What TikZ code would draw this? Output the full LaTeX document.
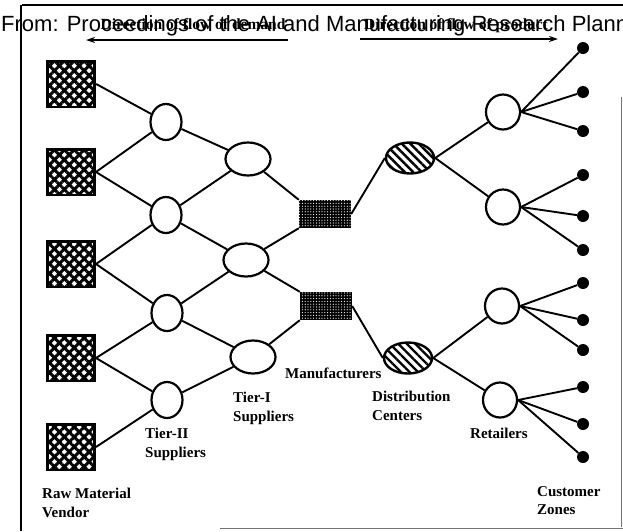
\documentclass[tikz,border=0pt]{standalone}
\usepackage{fontspec}
\setmainfont{Liberation Serif}
\newfontfamily\hdrfont{Liberation Sans}
\usetikzlibrary{shapes.geometric,patterns.meta,arrows.meta}
\begin{document}
\begin{tikzpicture}[x=1pt,y=-1pt,
  rawsq/.style={rectangle, draw, line width=2.6pt, minimum width=47.4pt, minimum height=45.6pt, inner sep=0pt,
    pattern={Lines[angle=45,distance=7pt,line width=3pt]},
    postaction={pattern={Lines[angle=-45,distance=7pt,line width=3pt]}}},
  mfgbox/.style={rectangle, inner sep=0pt, minimum width=52pt, minimum height=28pt, fill=black,
    postaction={pattern={Dots[distance=2.8pt,radius=0.6pt]}, pattern color=white}},
  dcnode/.style={ellipse, draw, line width=2.4pt, inner sep=0pt, minimum width=48pt, minimum height=31pt,
    pattern={Lines[angle=-45,distance=6pt,line width=2.4pt]}},
  tiertwo/.style={ellipse, draw, line width=2.2pt, inner sep=0pt, minimum width=31pt, minimum height=36pt, fill=white},
  tierone/.style={ellipse, draw, line width=2.2pt, inner sep=0pt, minimum width=45pt, minimum height=33pt, fill=white},
  retail/.style={ellipse, draw, line width=2.2pt, inner sep=0pt, minimum width=34pt, minimum height=35pt, fill=white},
  cust/.style={circle, fill=black, inner sep=0pt, minimum size=12pt},
  conn/.style={line width=1.9pt},
  lab/.style={font=\bfseries\fontsize{15}{18.5}\selectfont, align=left, inner sep=0pt, anchor=north west},
  dirlab/.style={font=\bfseries\fontsize{15.5}{18}\selectfont, inner sep=0pt, anchor=base},
  dirarrow/.style={line width=2.4pt, -{Stealth[length=9pt,width=6pt]}},
  frameline/.style={line width=2.2pt},
  faintline/.style={line width=1pt, black!55}
]
\clip (0,0) rectangle (623,531);
\fill[white] (0,0) rectangle (623,531);

% frame
\draw[frameline] (22,5) -- (623,5);
\draw[line width=1.6pt] (21,5) -- (21,531);
\draw[faintline] (621,97) -- (621,527);
\draw[faintline] (220,528) -- (623,528);

% header
\node[anchor=base west, inner sep=0pt, font=\hdrfont\fontsize{22}{26}\selectfont] (hdr) at (1,31)
  {From: Proceedings of the AI and Manufacturing Research Planning};
\node[dirlab] (demand) at (193,29) {Direction of flow of demand};
\node[dirlab] (product) at (456,29) {Direction of flow of product};
\coordinate (dA) at (288,40);
\coordinate (dB) at (86,40);
\coordinate (pA) at (360,39);
\coordinate (pB) at (558,39);
\draw[dirarrow] (dA) -- (dB);
\draw[dirarrow] (pA) -- (pB);

% raw material vendors
\node[rawsq] (s1) at (71,84) {};
\node[rawsq] (s2) at (71,172) {};
\node[rawsq] (s3) at (71,264) {};
\node[rawsq] (s4) at (71,358) {};
\node[rawsq] (s5) at (71,447) {};

% tier II
\node[tiertwo] (c1) at (166,122) {};
\node[tiertwo] (c2) at (166,215) {};
\node[tiertwo] (c3) at (167,313) {};
\node[tiertwo] (c4) at (167,400) {};

% tier I
\node[tierone] (t1) at (248,159) {};
\node[tierone] (t2) at (246,260) {};
\node[tierone] (t3) at (253,357) {};

% manufacturers
\node[mfgbox] (m1) at (325,214) {};
\node[mfgbox] (m2) at (326,306) {};

% distribution centers
\node[dcnode] (d1) at (410,158) {};
\node[dcnode] (d2) at (408,358) {};

% retailers
\node[retail] (r1) at (503,112) {};
\node[retail] (r2) at (503,207) {};
\node[retail] (r3) at (502,306) {};
\node[retail] (r4) at (500,400) {};

% customer zones
\foreach \i/\yy in {1/48,2/92,3/131,4/175,5/216,6/250,7/283,8/320,9/350,10/387,11/424,12/457}
  \node[cust] (z\i) at (583,\yy) {};

% connectors
\draw[conn] (s1.east) -- (c1);
\draw[conn] (s2.east) -- (c1);
\draw[conn] (s2.east) -- (c2);
\draw[conn] (s3.east) -- (c2);
\draw[conn] (s3.east) -- (c3);
\draw[conn] (s4.east) -- (c3);
\draw[conn] (s4.east) -- (c4);
\draw[conn] (s5.east) -- (c4);

\draw[conn] (c1) -- (t1);
\draw[conn] (c2) -- (t1);
\draw[conn] (c2) -- (t2);
\draw[conn] (c3) -- (t2);
\draw[conn] (c3) -- (t3);
\draw[conn] (c4) -- (t3);

\draw[conn] (t1) -- (m1.north west);
\draw[conn] (t2) -- (m1.south west);
\draw[conn] (t2) -- (m2.north west);
\draw[conn] (t3) -- (m2.south west);

\draw[conn] (m1.east) -- (d1.west);
\draw[conn] (m2.east) -- (d2.west);

\draw[conn] (d1.east) -- (r1);
\draw[conn] (d1.east) -- (r2);
\draw[conn] (d2.east) -- (r3);
\draw[conn] (d2.east) -- (r4);

\foreach \r/\a/\b/\c in {r1/1/2/3, r2/4/5/6, r3/7/8/9, r4/10/11/12} {
  \draw[conn] (\r.east) -- (z\a);
  \draw[conn] (\r.east) -- (z\b);
  \draw[conn] (\r.east) -- (z\c);
}

% labels
\node[lab] (lraw) at (42,488) {Raw Material\\Vendor};
\node[lab] (ltwo) at (145,428) {Tier-II\\Suppliers};
\node[lab] (lone) at (233,392) {Tier-I\\Suppliers};
\node[lab] (lmfg) at (285,368) {Manufacturers};
\node[lab] (ldc) at (372,391) {Distribution\\Centers};
\node[lab] (lret) at (470,428) {Retailers};
\node[lab] (lcust) at (537,486) {Customer\\Zones};
\end{tikzpicture}
\end{document}
